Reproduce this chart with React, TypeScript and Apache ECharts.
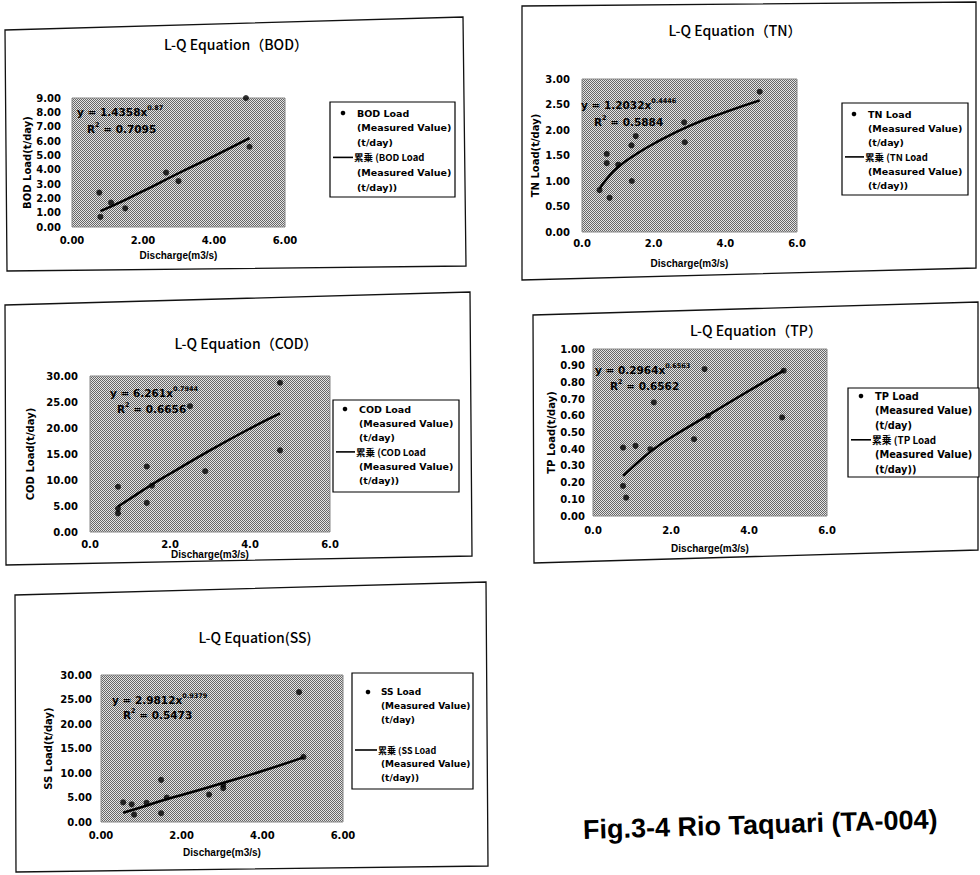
import React, { useEffect, useRef } from "react";
import * as echarts from "echarts";

// ---------------- data ----------------
const bodQ = [0.77, 0.8, 1.1, 1.5, 2.65, 3.0, 4.9, 5.0];
const bodLoad = [2.4, 0.7, 1.7, 1.3, 3.8, 3.2, 9.0, 5.6];
const bodFitQ = [0.8, 1.5, 2.0, 3.0, 4.0, 5.0];
const bodFitLoad = [1.1, 1.9, 2.5, 3.75, 4.95, 6.2];

const tnQ = [0.49, 0.69, 0.69, 0.77, 1.01, 1.38, 1.39, 1.5, 2.85, 2.87, 4.96];
const tnLoad = [0.82, 1.53, 1.35, 0.67, 1.32, 1.7, 1.0, 1.88, 2.15, 1.76, 2.75];
const tnFitQ = [0.49, 0.7, 1.0, 1.5, 2.0, 3.0, 4.0, 4.96];
const tnFitLoad = [0.85, 1.05, 1.27, 1.52, 1.73, 2.08, 2.35, 2.58];

const codQ = [0.7, 0.7, 0.7, 1.42, 1.42, 1.55, 2.5, 2.88, 4.75, 4.75];
const codLoad = [8.7, 4.5, 3.6, 12.6, 5.6, 8.9, 24.2, 11.7, 28.7, 15.7];
const codFitQ = [0.7, 1.0, 1.5, 2.0, 3.0, 4.0, 4.75];
const codFitLoad = [4.9, 6.4, 8.9, 11.2, 15.7, 19.9, 22.8];

const tpQ = [0.77, 0.77, 0.85, 1.09, 1.47, 1.56, 2.59, 2.86, 2.95, 4.85, 4.89];
const tpLoad = [0.41, 0.18, 0.11, 0.42, 0.4, 0.68, 0.46, 0.88, 0.6, 0.59, 0.87];
const tpFitQ = [0.77, 1.0, 1.5, 2.0, 3.0, 4.0, 4.89];
const tpFitLoad = [0.24, 0.29, 0.39, 0.47, 0.61, 0.75, 0.87];

const ssQ = [0.55, 0.76, 0.82, 1.13, 1.49, 1.49, 1.63, 2.68, 3.03, 3.03, 4.91, 5.02];
const ssLoad = [4.0, 3.6, 1.5, 3.9, 8.6, 1.8, 5.0, 5.6, 6.9, 7.6, 26.5, 13.3];
const ssFitQ = [0.55, 1.0, 1.6, 2.0, 3.0, 4.0, 5.02];
const ssFitLoad = [1.9, 3.0, 4.6, 5.5, 7.9, 10.4, 13.2];

const paramNames = ["BOD", "TN", "COD", "TP", "SS"];
const chartTitles = [
  "L-Q Equation（BOD）",
  "L-Q Equation（TN）",
  "L-Q Equation（COD）",
  "L-Q Equation（TP）",
  "L-Q Equation(SS)",
];
const coefs = ["1.4358", "1.2032", "6.261", "0.2964", "2.9812"];
const exps = ["0.87", "0.4446", "0.7944", "0.6563", "0.9379"];
const r2s = ["0.7095", "0.5884", "0.6656", "0.6562", "0.5473"];
const yMaxes = [9, 3, 30, 1, 30];
const ySteps = [1, 0.5, 5, 0.1, 5];
const xMax = 6;
const xStep = 2;
const xDecimals = [2, 1, 1, 1, 2];
const yDecimals = [2, 2, 2, 2, 2];
const figTitle = "Fig.3-4 Rio Taquari (TA-004)";

const seriesData = [
  { q: bodQ, load: bodLoad, fq: bodFitQ, fl: bodFitLoad },
  { q: tnQ, load: tnLoad, fq: tnFitQ, fl: tnFitLoad },
  { q: codQ, load: codLoad, fq: codFitQ, fl: codFitLoad },
  { q: tpQ, load: tpLoad, fq: tpFitQ, fl: tpFitLoad },
  { q: ssQ, load: ssLoad, fq: ssFitQ, fl: ssFitLoad },
];

// ---------------- layout ----------------
const layouts = [
  {
    grid: { left: 72, top: 98, width: 213, height: 129 },
    title: [236, 44],
    box: [[5, 30], [463, 17], [466, 266], [7, 271]],
    legend: [330, 102, 125, 95], t0: 11, lineH: 14.8, ssGap: 0, dotX: 13, textX: 27, lineX2: 23, legFont: 9.5,
    yLabelMargin: 11, xLabelMargin: 8, xNameGap: 23, yNameGap: 40, eq: [5, 14], r2: [15, 31],
  },
  {
    grid: { left: 582, top: 79, width: 215, height: 153 },
    title: [735, 30],
    box: [[522, 6], [976, 2], [976, 268], [522, 280]],
    legend: [842, 103, 126, 92], t0: 11, lineH: 14.3, ssGap: 0, dotX: 12, textX: 26, lineX2: 22, legFont: 9.5,
    yLabelMargin: 12, xLabelMargin: 6, xNameGap: 26, yNameGap: 42, eq: [-1, 26], r2: [12, 43],
  },
  {
    grid: { left: 90, top: 376, width: 240, height: 156 },
    title: [246, 343],
    box: [[5, 305], [470, 292], [472, 556], [6, 565]],
    legend: [333, 400, 126, 92], t0: 9, lineH: 14.3, ssGap: 0, dotX: 12, textX: 26, lineX2: 22, legFont: 9.5,
    yLabelMargin: 12, xLabelMargin: 7, xNameGap: 12, yNameGap: 55, eq: [20, 17], r2: [27, 33],
  },
  {
    grid: { left: 593, top: 349, width: 234, height: 167 },
    title: [756, 330],
    box: [[533, 315], [978, 302], [978, 550], [534, 563]],
    legend: [848, 388, 131, 89], t0: 8, lineH: 14.6, ssGap: 0, dotX: 13, textX: 27, lineX2: 23, legFont: 9.8,
    yLabelMargin: 8, xLabelMargin: 9, xNameGap: 27, yNameGap: 36, eq: [2, 21], r2: [17, 37],
  },
  {
    grid: { left: 101, top: 675, width: 242, height: 147 },
    title: [255, 637],
    box: [[15, 595], [486, 582], [488, 866], [16, 872]],
    legend: [352, 673, 121, 116], t0: 19, lineH: 14, ssGap: 16, dotX: 16, textX: 29, lineX2: 25, legFont: 9,
    yLabelMargin: 9, xLabelMargin: 8, xNameGap: 25, yNameGap: 48, eq: [11, 25], r2: [22, 40],
  },
];

const LAT = '"Liberation Sans", "Noto Sans CJK JP", sans-serif';
const DJV = '"DejaVu Sans", "Noto Sans CJK JP", sans-serif';
const CJK = '"Noto Sans CJK JP", "DejaVu Sans", sans-serif';

function makePattern(): any {
  const c = document.createElement("canvas");
  c.width = 2;
  c.height = 2;
  const ctx = c.getContext("2d");
  if (!ctx) return "#a6a6a6";
  ctx.fillStyle = "#e4e4e4";
  ctx.fillRect(0, 0, 2, 2);
  ctx.fillStyle = "#666666";
  ctx.fillRect(0, 0, 1, 1);
  ctx.fillRect(1, 1, 1, 1);
  return { image: c, repeat: "repeat" };
}

function buildOption() {
  const grids: any[] = [];
  const xAxes: any[] = [];
  const yAxes: any[] = [];
  const series: any[] = [];
  const graphic: any[] = [];
  const plotBg = makePattern();

  paramNames.forEach((p, i) => {
    const L = layouts[i];
    const d = seriesData[i];
    grids.push({
      ...L.grid,
      show: true,
      backgroundColor: plotBg,
      borderColor: "#888",
      borderWidth: 1,
    });
    xAxes.push({
      type: "value",
      gridIndex: i,
      min: 0,
      max: xMax,
      interval: xStep,
      name: "Discharge(m3/s)",
      nameLocation: "middle",
      nameGap: L.xNameGap,
      nameTextStyle: { fontFamily: LAT, fontWeight: "bold", fontSize: 10, color: "#000" },
      axisLine: { show: false },
      axisTick: { show: false },
      splitLine: { show: false },
      axisLabel: {
        margin: L.xLabelMargin,
        fontFamily: DJV,
        fontWeight: "bold",
        fontSize: 10,
        color: "#000",
        formatter: (v: number) => v.toFixed(xDecimals[i]),
      },
    });
    yAxes.push({
      type: "value",
      gridIndex: i,
      min: 0,
      max: yMaxes[i],
      interval: ySteps[i],
      name: `${p} Load(t/day)`,
      nameLocation: "middle",
      nameRotate: 90,
      nameGap: L.yNameGap,
      nameTextStyle: { fontFamily: DJV, fontWeight: "bold", fontSize: 10, color: "#000" },
      axisLine: { show: false },
      axisTick: { show: false },
      splitLine: { show: false },
      axisLabel: {
        margin: L.yLabelMargin,
        fontFamily: DJV,
        fontWeight: "bold",
        fontSize: 10,
        color: "#000",
        formatter: (v: number) => v.toFixed(yDecimals[i]),
      },
    });
    series.push({
      name: `${p} Load (Measured Value) (t/day)`,
      type: "scatter",
      xAxisIndex: i,
      yAxisIndex: i,
      symbol: "circle",
      symbolSize: 6,
      itemStyle: { color: "#000" },
      data: d.q.map((v, k) => [v, d.load[k]]),
    });
    series.push({
      name: `累乗 (${p} Load (Measured Value) (t/day))`,
      type: "line",
      xAxisIndex: i,
      yAxisIndex: i,
      smooth: true,
      symbol: "none",
      lineStyle: { color: "#000", width: 2.5 },
      data: d.fq.map((v, k) => [v, d.fl[k]]),
    });

    // chart frame
    graphic.push({
      type: "polygon",
      shape: { points: L.box },
      style: { fill: "none", stroke: "#111", lineWidth: 1.3 },
      z: 0,
    });
    // chart title
    graphic.push({
      type: "text",
      x: L.title[0],
      y: L.title[1],
      style: {
        text: chartTitles[i],
        font: `500 14px ${CJK}`,
        fill: "#000",
        textAlign: "center",
        textVerticalAlign: "middle",
      },
    });
    // regression equation
    const gx = L.grid.left;
    const gy = L.grid.top;
    const rich = {
      a: { fontFamily: DJV, fontWeight: "bold", fontSize: 10.5, fill: "#000", color: "#000" },
      b: { fontFamily: DJV, fontWeight: "bold", fontSize: 6.5, fill: "#000", color: "#000", verticalAlign: "top", padding: [0, 0, 8, 0] },
    };
    graphic.push({
      type: "text",
      x: gx + L.eq[0],
      y: gy + L.eq[1],
      z: 10,
      style: { text: `{a|y = ${coefs[i]}x}{b|${exps[i]}}`, textVerticalAlign: "middle", rich },
    });
    graphic.push({
      type: "text",
      x: gx + L.r2[0],
      y: gy + L.r2[1],
      z: 10,
      style: { text: `{a|R}{b|2}{a| = ${r2s[i]}}`, textVerticalAlign: "middle", rich },
    });
    // legend
    const [lx, ly, lw, lh] = L.legend;
    const legendLines1 = [`${p} Load`, "(Measured Value)", "(t/day)"];
    const legendLines2 = [`累乗 (${p} Load`, "(Measured Value)", "(t/day))"];
    const children: any[] = [
      {
        type: "rect",
        shape: { x: 0, y: 0, width: lw, height: lh },
        style: { fill: "#fff", stroke: "#000", lineWidth: 1.2 },
      },
      {
        type: "circle",
        shape: { cx: L.dotX, cy: L.t0, r: 2.3 },
        style: { fill: "#000" },
      },
    ];
    legendLines1.forEach((s, k) => {
      children.push({
        type: "text",
        x: L.textX,
        y: L.t0 + k * L.lineH,
        style: { text: s, font: `bold ${L.legFont}px ${DJV}`, fill: "#000", textVerticalAlign: "middle" },
      });
    });
    const y2 = L.t0 + 3 * L.lineH + L.ssGap;
    children.push({
      type: "line",
      shape: { x1: 3, y1: y2, x2: L.lineX2, y2: y2 },
      style: { stroke: "#000", lineWidth: 1.6 },
    });
    legendLines2.forEach((s, k) => {
      children.push({
        type: "text",
        x: k === 0 ? L.lineX2 + 1 : L.textX,
        y: y2 + k * L.lineH,
        style: {
          text: s,
          font: `bold ${L.legFont}px ${k === 0 ? CJK : DJV}`,
          fill: "#000",
          textVerticalAlign: "middle",
        },
      });
    });
    graphic.push({ type: "group", x: lx, y: ly, children });
  });

  graphic.push({
    type: "text",
    x: 583,
    y: 830,
    rotation: 0.03,
    style: {
      text: figTitle,
      font: `bold 27px ${LAT}`,
      fill: "#000",
      textVerticalAlign: "middle",
    },
  });

  return {
    animation: false,
    backgroundColor: "#fff",
    grid: grids,
    xAxis: xAxes,
    yAxis: yAxes,
    series,
    graphic,
  };
}

export default function App() {
  const ref = useRef<HTMLDivElement>(null);
  useEffect(() => {
    document.body.style.margin = "0";
    const chart = echarts.init(ref.current as HTMLDivElement, undefined, { renderer: "svg" });
    chart.setOption(buildOption() as any);
    return () => chart.dispose();
  }, []);
  return (
    <div
      ref={ref}
      style={{ position: "absolute", left: 0, top: 0, width: 980, height: 875, background: "#fff" }}
    />
  );
}
